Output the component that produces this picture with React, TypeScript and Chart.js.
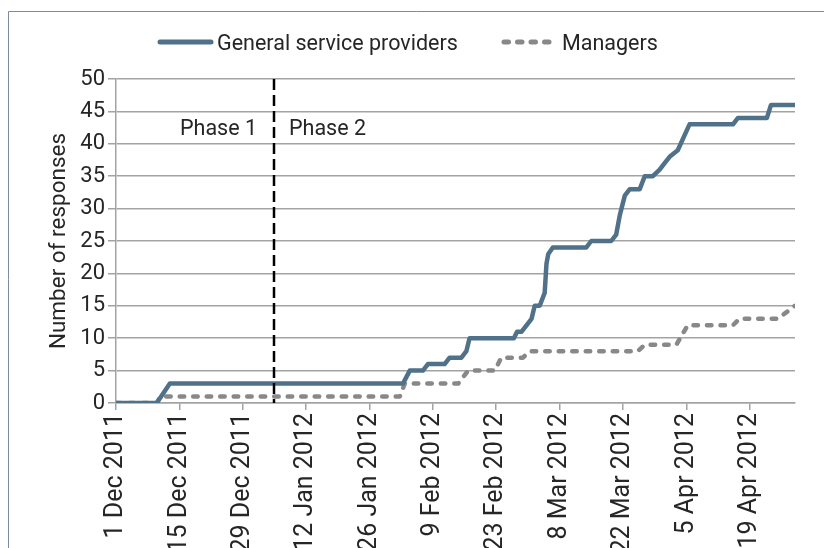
import React, { useEffect, useRef } from "react";
import { Chart, registerables } from "chart.js";

Chart.register(...registerables);

// ---- data ----
const tickDays = [0, 14, 28, 42, 56, 70, 84, 98, 112, 126, 140];
const tickLabels = [
  "1 Dec 2011",
  "15 Dec 2011",
  "29 Dec 2011",
  "12 Jan 2012",
  "26 Jan 2012",
  "9 Feb 2012",
  "23 Feb 2012",
  "8 Mar 2012",
  "22 Mar 2012",
  "5 Apr 2012",
  "19 Apr 2012",
];
const seriesNames = ["General service providers", "Managers"];

// days since 1 Dec 2011
const gspDays = [
  0, 9, 11.9, 63.4, 64.9, 67.8, 68.9, 72.6, 73.7, 76.3, 77.4, 78.1, 87.9, 88.6,
  89.6, 91.8, 92.5, 93.6, 94.7, 95.1, 95.5, 96.5, 103.9, 105.0, 109.4, 110.5,
  111.3, 112.4, 113.5, 115.7, 116.8, 118.6, 120.1, 121.2, 122.3, 124.1, 126.7,
  136.3, 137.4, 143.8, 144.7, 150,
];
const gspValues = [
  0, 0, 3, 3, 5, 5, 6, 6, 7, 7, 8, 10, 10, 11, 11, 13, 15, 15, 17, 21.5, 23, 24,
  24, 25, 25, 26, 29, 32, 33, 33, 35, 35, 36, 37, 38, 39, 43, 43, 44, 44, 46, 46,
];

const mgrDays = [
  0, 9, 9.8, 62.7, 63.8, 75.6, 77.8, 83.7, 85.1, 89.9, 91.4, 115.3, 116.8, 123.8,
  126.3, 136.3, 137.7, 146.2, 150,
];
const mgrValues = [0, 0, 1, 1, 3, 3, 5, 5, 7, 7, 8, 8, 9, 9, 12, 12, 13, 13, 15];

const phaseDay = 35;
const phaseLabels = ["Phase 1", "Phase 2"];
const yTitle = "Number of responses";

// ---- styles ----
const FONT = "Roboto, 'Liberation Sans', sans-serif";
const TEXT = "#262626";
const GRID = "#a3a3a3";
const GSP_COLOR = "#4f7189";
const MGR_COLOR = "#888888";
const FRAME = "#7a8c9e";

const overlay = {
  id: "overlay",
  beforeDraw(chart: any) {
    const ctx = chart.ctx;
    ctx.save();
    ctx.fillStyle = "#ffffff";
    ctx.fillRect(0, 0, chart.width, chart.height);
    ctx.strokeStyle = FRAME;
    ctx.lineWidth = 1;
    ctx.beginPath();
    ctx.moveTo(8.5, chart.height);
    ctx.lineTo(8.5, 11.5);
    ctx.lineTo(chart.width, 11.5);
    ctx.stroke();
    ctx.restore();
  },
  afterDatasetsDraw(chart: any) {
    const ctx = chart.ctx;
    const area = chart.chartArea;
    const px = Math.round(chart.scales.x.getPixelForValue(phaseDay));
    ctx.save();
    // phase divider
    ctx.strokeStyle = "#000000";
    ctx.lineWidth = 2.5;
    ctx.setLineDash([11, 5]);
    ctx.beginPath();
    ctx.moveTo(px, area.top);
    ctx.lineTo(px, area.bottom);
    ctx.stroke();
    ctx.setLineDash([]);

    // phase labels
    ctx.fillStyle = TEXT;
    ctx.font = `21.5px ${FONT}`;
    ctx.textBaseline = "alphabetic";
    ctx.textAlign = "right";
    ctx.fillText(phaseLabels[0], px - 17, 135);
    ctx.textAlign = "left";
    ctx.fillText(phaseLabels[1], px + 15, 135);

    // legend
    const ly = 42;
    ctx.lineCap = "round";
    ctx.lineWidth = 5;
    ctx.strokeStyle = GSP_COLOR;
    ctx.beginPath();
    ctx.moveTo(160, ly);
    ctx.lineTo(211, ly);
    ctx.stroke();
    ctx.strokeStyle = MGR_COLOR;
    ctx.setLineDash([4.5, 9]);
    ctx.beginPath();
    ctx.moveTo(504, ly);
    ctx.lineTo(549, ly);
    ctx.stroke();
    ctx.setLineDash([]);
    ctx.fillStyle = TEXT;
    ctx.textAlign = "left";
    ctx.font = `21.5px ${FONT}`;
    ctx.fillText(seriesNames[0], 217, 50);
    ctx.fillText(seriesNames[1], 562, 50);
    ctx.restore();
  },
};

export default function App() {
  const ref = useRef<HTMLCanvasElement | null>(null);

  useEffect(() => {
    if (!ref.current) return;
    const chart = new Chart(ref.current, {
      type: "line",
      data: {
        datasets: [
          {
            label: seriesNames[0],
            data: gspDays.map((d, i) => ({ x: d, y: gspValues[i] })),
            borderColor: GSP_COLOR,
            backgroundColor: GSP_COLOR,
            borderWidth: 4.5,
            pointRadius: 0,
            tension: 0,
            fill: false,
            borderCapStyle: "round",
            borderJoinStyle: "round",
          },
          {
            label: seriesNames[1],
            data: mgrDays.map((d, i) => ({ x: d, y: mgrValues[i] })),
            borderColor: MGR_COLOR,
            backgroundColor: MGR_COLOR,
            borderWidth: 4.5,
            borderDash: [4.5, 9],
            pointRadius: 0,
            tension: 0,
            fill: false,
            borderCapStyle: "round",
            borderJoinStyle: "round",
          },
        ],
      },
      options: {
        animation: false,
        responsive: false,
        maintainAspectRatio: false,
        layout: { padding: { left: 30, top: 79, right: 29, bottom: 0 } },
        plugins: {
          legend: { display: false },
          tooltip: { enabled: false },
        },
        scales: {
          x: {
            type: "linear",
            min: 0,
            max: 150,
            afterBuildTicks: (s: any) => {
              s.ticks = tickDays.map((v) => ({ value: v }));
            },
            afterFit: (s: any) => {
              s.height = 145;
            },
            grid: {
              drawOnChartArea: false,
              drawTicks: true,
              tickLength: 7,
              color: GRID,
              lineWidth: 1.5,
            },
            border: { color: GRID, width: 1.5 },
            ticks: {
              autoSkip: false,
              minRotation: 90,
              maxRotation: 90,
              padding: 3,
              color: TEXT,
              font: { family: FONT, size: 25 },
              callback: (v: any) => {
                const i = tickDays.indexOf(Number(v));
                return i >= 0 ? tickLabels[i] : "";
              },
            },
          },
          y: {
            min: 0,
            max: 50,
            afterFit: (s: any) => {
              s.width = 86;
            },
            ticks: {
              stepSize: 5,
              autoSkip: false,
              padding: 3,
              color: TEXT,
              font: { family: FONT, size: 22 },
            },
            grid: { color: GRID, lineWidth: 1.5, tickLength: 8 },
            border: { color: GRID, width: 1.5 },
            title: {
              display: true,
              text: yTitle,
              color: TEXT,
              font: { family: FONT, size: 22.5 },
              padding: { top: 16, bottom: 0 },
            },
          },
        },
      },
      plugins: [overlay],
    } as any);
    return () => chart.destroy();
  }, []);

  return (
    <div style={{ position: "fixed", left: 0, top: 0, width: 824, height: 548 }}>
      <canvas ref={ref} width={824} height={548} style={{ width: 824, height: 548 }} />
    </div>
  );
}
